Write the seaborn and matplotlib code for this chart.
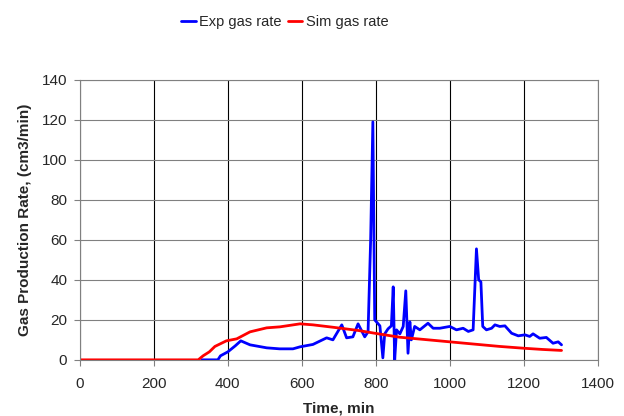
import pandas as pd
import matplotlib.pyplot as plt
import seaborn as sns

# -----------------------------------------
#  Data
# -----------------------------------------

EXP_TIME = [330, 373, 380, 400, 420, 435, 460, 505, 540, 576, 595, 630, 667, 684,
            708, 721, 738, 752, 770, 779, 786, 792, 797, 811, 819, 824, 833, 842,
            847, 851, 856, 865, 874, 881, 887, 892, 896, 905, 919, 941, 955, 973,
            1000, 1018, 1036, 1050, 1063, 1072, 1078, 1084, 1089, 1099, 1113,
            1122, 1135, 1149, 1167, 1185, 1203, 1216, 1225, 1243, 1261, 1279,
            1293, 1302]
EXP_RATE = [0, 0, 2, 4, 7, 9.5, 7.5, 6, 5.5, 5.5, 6.5, 7.7, 11, 10,
            17.5, 11, 11.5, 18, 11.5, 14, 60, 119, 20, 17, 1, 13, 15.5, 17,
            36.5, 0, 15, 13, 16.7, 34.5, 3.3, 19, 10, 16.7, 15, 18.3, 15.8, 15.8,
            16.7, 15, 15.8, 14.2, 15, 55.5, 40, 39, 16.7, 15, 15.8,
            17.5, 16.7, 17, 13.3, 12, 12.5, 11.7, 13, 10.8, 11.2, 8.3,
            9, 7.5]

SIM_TIME = [0, 100, 200, 300, 320, 333, 350, 365, 396, 424, 460, 505, 541, 595,
            630, 684, 752, 797, 865, 930, 1000, 1070, 1135, 1200, 1250, 1302]
SIM_RATE = [0, 0, 0, 0, 0, 2, 4, 6.7, 9.5, 10.5, 14, 16, 16.5, 18,
            17.5, 16.3, 14.7, 13.3, 11.3, 10.2, 9, 7.8, 6.7, 5.8, 5.2, 4.7]

X_TICKS = list(range(0, 1401, 200))
Y_TICKS = list(range(0, 141, 20))

# -----------------------------------------
#  Plot
# -----------------------------------------

sns.set_style("white")
plt.rcParams["font.family"] = ["Liberation Sans", "DejaVu Sans"]

exp = pd.DataFrame({"Time": EXP_TIME, "Rate": EXP_RATE})
sim = pd.DataFrame({"Time": SIM_TIME, "Rate": SIM_RATE})

fig, ax = plt.subplots(figsize=(6.24, 4.16), dpi=100)
fig.subplots_adjust(left=0.128, right=0.958, top=0.808, bottom=0.135)

sns.lineplot(data=exp, x="Time", y="Rate", ax=ax, color="#0000ff",
             linewidth=2, label="Exp gas rate")
sns.lineplot(data=sim, x="Time", y="Rate", ax=ax, color="#ff0000",
             linewidth=2, label="Sim gas rate")

ax.set_xlim(0, 1400)
ax.set_ylim(0, 140)
ax.set_xticks(X_TICKS)
ax.set_yticks(Y_TICKS)
ax.tick_params(labelsize=11, length=4, color="#808080", direction="out",
               left=True, bottom=True)
ax.tick_params(axis="x", pad=8)
ax.tick_params(axis="y", pad=5)

ax.xaxis.grid(True, color="black", linewidth=0.8)
ax.yaxis.grid(True, color="#808080", linewidth=0.8)
for side in ax.spines.values():
    side.set_color("#808080")
    side.set_linewidth(0.8)

ax.set_xlabel("Time, min", fontsize=11, fontweight="bold", labelpad=8)
ax.set_ylabel("Gas Production Rate, (cm3/min)", fontsize=11,
              fontweight="bold", labelpad=7)

ax.legend(loc="center", bbox_to_anchor=(0.396, 1.205), ncol=2, frameon=False,
          fontsize=10.5, handlelength=1.0, handletextpad=0.25, columnspacing=0.4)

fig.savefig("out.png", dpi=100)
